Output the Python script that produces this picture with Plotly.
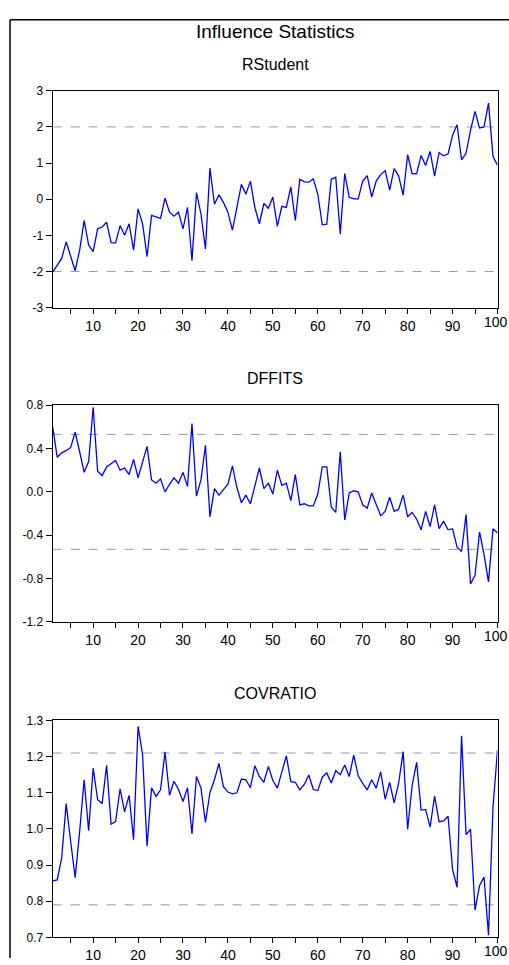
import plotly.graph_objects as go

obs = list(range(1, 101))

rstudent = [-2.02, -1.83, -1.64, -1.18, -1.57, -1.98, -1.41, -0.59, -1.27, -1.45,
            -0.82, -0.77, -0.64, -1.20, -1.21, -0.73, -1.00, -0.68, -1.41, -0.27,
            -0.68, -1.59, -0.45, -0.50, -0.53, 0.03, -0.36, -0.47, -0.36, -0.82,
            -0.23, -1.70, 0.18, -0.41, -1.38, 0.86, -0.14, 0.12, -0.09, -0.36,
            -0.86, -0.23, 0.41, 0.14, 0.50, -0.23, -0.68, -0.12, -0.25, 0.06,
            -0.75, -0.20, -0.23, 0.34, -0.59, 0.55, 0.48, 0.47, 0.56, 0.14,
            -0.71, -0.69, 0.55, 0.61, -0.96, 0.71, 0.05, 0.01, 0.01, 0.50,
            0.65, 0.06, 0.50, 0.68, 0.79, 0.25, 0.85, 0.64, 0.11, 1.23,
            0.71, 0.70, 1.21, 0.93, 1.32, 0.64, 1.29, 1.20, 1.25, 1.77,
            2.06, 1.09, 1.27, 1.91, 2.43, 1.97, 2.00, 2.66, 1.18, 0.94]

dffits = [0.60, 0.32, 0.36, 0.38, 0.41, 0.55, 0.37, 0.18, 0.28, 0.78,
          0.19, 0.15, 0.23, 0.26, 0.29, 0.20, 0.22, 0.16, 0.30, 0.13,
          0.28, 0.42, 0.11, 0.08, 0.12, 0.00, 0.07, 0.13, 0.08, 0.18,
          0.05, 0.63, -0.04, 0.11, 0.43, -0.23, 0.03, -0.03, 0.02, 0.07,
          0.24, 0.04, -0.10, -0.03, -0.11, 0.07, 0.22, 0.03, 0.08, -0.02,
          0.20, 0.06, 0.08, -0.08, 0.16, -0.12, -0.11, -0.13, -0.13, -0.02,
          0.23, 0.23, -0.14, -0.19, 0.37, -0.26, -0.01, 0.01, 0.00, -0.12,
          -0.15, -0.01, -0.11, -0.22, -0.18, -0.05, -0.18, -0.16, -0.03, -0.23,
          -0.19, -0.25, -0.35, -0.18, -0.32, -0.12, -0.34, -0.27, -0.35, -0.34,
          -0.51, -0.55, -0.21, -0.85, -0.77, -0.37, -0.58, -0.83, -0.34, -0.38]

covratio = [0.856, 0.859, 0.920, 1.070, 0.965, 0.865, 0.993, 1.136, 0.995, 1.168,
            1.081, 1.070, 1.176, 1.013, 1.020, 1.111, 1.047, 1.093, 0.970, 1.284,
            1.206, 0.952, 1.114, 1.090, 1.108, 1.213, 1.093, 1.132, 1.109, 1.076,
            1.114, 0.986, 1.145, 1.113, 1.018, 1.100, 1.136, 1.181, 1.117, 1.102,
            1.097, 1.100, 1.138, 1.136, 1.114, 1.175, 1.145, 1.129, 1.173, 1.134,
            1.113, 1.158, 1.202, 1.131, 1.129, 1.108, 1.123, 1.149, 1.109, 1.106,
            1.143, 1.155, 1.127, 1.161, 1.150, 1.177, 1.145, 1.204, 1.147, 1.126,
            1.108, 1.136, 1.113, 1.158, 1.082, 1.129, 1.072, 1.127, 1.214, 0.999,
            1.120, 1.184, 1.052, 1.054, 1.005, 1.091, 1.020, 1.022, 1.035, 0.888,
            0.838, 1.258, 0.984, 0.999, 0.775, 0.843, 0.867, 0.706, 1.061, 1.218]

panel_titles = ["RStudent", "DFFITS", "COVRATIO"]
thresholds = [[2.0, -2.0], [0.53, -0.53], [1.21, 0.79]]
y_ticks = [[-3, -2, -1, 0, 1, 2, 3],
           [-1.2, -0.8, -0.4, 0.0, 0.4, 0.8],
           [0.7, 0.8, 0.9, 1.0, 1.1, 1.2, 1.3]]
y_tick_text = [["-3", "-2", "-1", "0", "1", "2", "3"],
               ["-1.2", "-0.8", "-0.4", "0.0", "0.4", "0.8"],
               ["0.7", "0.8", "0.9", "1.0", "1.1", "1.2", "1.3"]]
x_tick_vals = list(range(5, 101, 5))
x_tick_labels = [str(v) if v % 10 == 0 else "" for v in x_tick_vals]
# the last label sits at the picture's right edge; it is drawn as an annotation
x_last_label = x_tick_labels[-1]
x_tick_text = x_tick_labels[:-1] + [""]

W, H = 509, 965
FONT = "Liberation Sans, Arial, sans-serif"

x_dom = [52.7 / W, 497.5 / W]
panel_px = [(85, 305), (404, 624), (724, 944)]

fig = go.Figure()
series = [rstudent, dffits, covratio]
layout = dict(
    width=W, height=H,
    margin=dict(l=0, r=0, t=0, b=0),
    paper_bgcolor="white", plot_bgcolor="white",
    showlegend=False,
    font=dict(family=FONT, color="black", size=12),
)
shapes = []
annotations = []

for k in range(3):
    suffix = "" if k == 0 else str(k + 1)
    xa = "x" + suffix
    ya = "y" + suffix
    top, bot = panel_px[k]
    fig.add_trace(go.Scatter(x=obs, y=series[k], mode="lines",
                             line=dict(color="#0000FF", width=1.3),
                             xaxis=xa, yaxis=ya, hoverinfo="skip"))
    yr = [y_ticks[k][0], y_ticks[k][-1]]
    layout["xaxis" + suffix] = dict(
        domain=x_dom, range=[1, 100], anchor=ya,
        showgrid=False, zeroline=False,
        showline=True, mirror=True, linecolor="black", linewidth=1.3,
        ticks="outside", ticklen=5, tickwidth=1, tickcolor="black",
        tickvals=x_tick_vals, ticktext=x_tick_text,
        tickfont=dict(family=FONT, size=14, color="black"),
    )
    layout["yaxis" + suffix] = dict(
        domain=[1 - bot / H, 1 - top / H], range=yr, anchor=xa,
        showgrid=False, zeroline=False,
        showline=True, mirror=True, linecolor="black", linewidth=1.3,
        ticks="outside", ticklen=6, tickwidth=1, tickcolor="black",
        tickvals=y_ticks[k], ticktext=y_tick_text[k],
        tickfont=dict(family=FONT, size=12, color="black"),
    )
    for t in thresholds[k]:
        shapes.append(dict(type="line", xref=xa, yref=ya, x0=1, x1=100,
                           y0=t, y1=t, layer="below",
                           line=dict(color="#9a9a9a", width=1, dash="dash")))
    annotations.append(dict(text=panel_titles[k], xref="paper", yref="paper",
                            x=(x_dom[0] + x_dom[1]) / 2, y=1 - (top - 27) / H,
                            xanchor="center", yanchor="middle", showarrow=False,
                            font=dict(family=FONT, size=16, color="black")))
    annotations.append(dict(text=x_last_label, xref="paper", yref="paper",
                            x=1, y=1 - (bot + 5) / H,
                            xanchor="right", yanchor="top", showarrow=False,
                            borderpad=0,
                            font=dict(family=FONT, size=14, color="black")))

annotations.append(dict(text="Influence Statistics", xref="paper", yref="paper",
                        x=(x_dom[0] + x_dom[1]) / 2, y=1 - 25 / H,
                        xanchor="center", yanchor="middle", showarrow=False,
                        font=dict(family=FONT, size=19, color="black")))

# outer frame (only its top and left edges fall inside the picture)
shapes.append(dict(type="line", xref="paper", yref="paper",
                   x0=10 / W, x1=1, y0=1 - 13 / H, y1=1 - 13 / H,
                   line=dict(color="black", width=1.5)))
shapes.append(dict(type="line", xref="paper", yref="paper",
                   x0=10 / W, x1=10 / W, y0=0, y1=1 - 13 / H,
                   line=dict(color="black", width=1.5)))

layout["shapes"] = shapes
layout["annotations"] = annotations
fig.update_layout(**layout)
fig.write_html(
    "out.html",
    config={"displayModeBar": False},
    post_script=(
        "document.body.style.margin='0';document.body.style.padding='0';"
        "document.documentElement.style.overflow='hidden';"
        "document.body.style.overflow='hidden';"
    ),
)
